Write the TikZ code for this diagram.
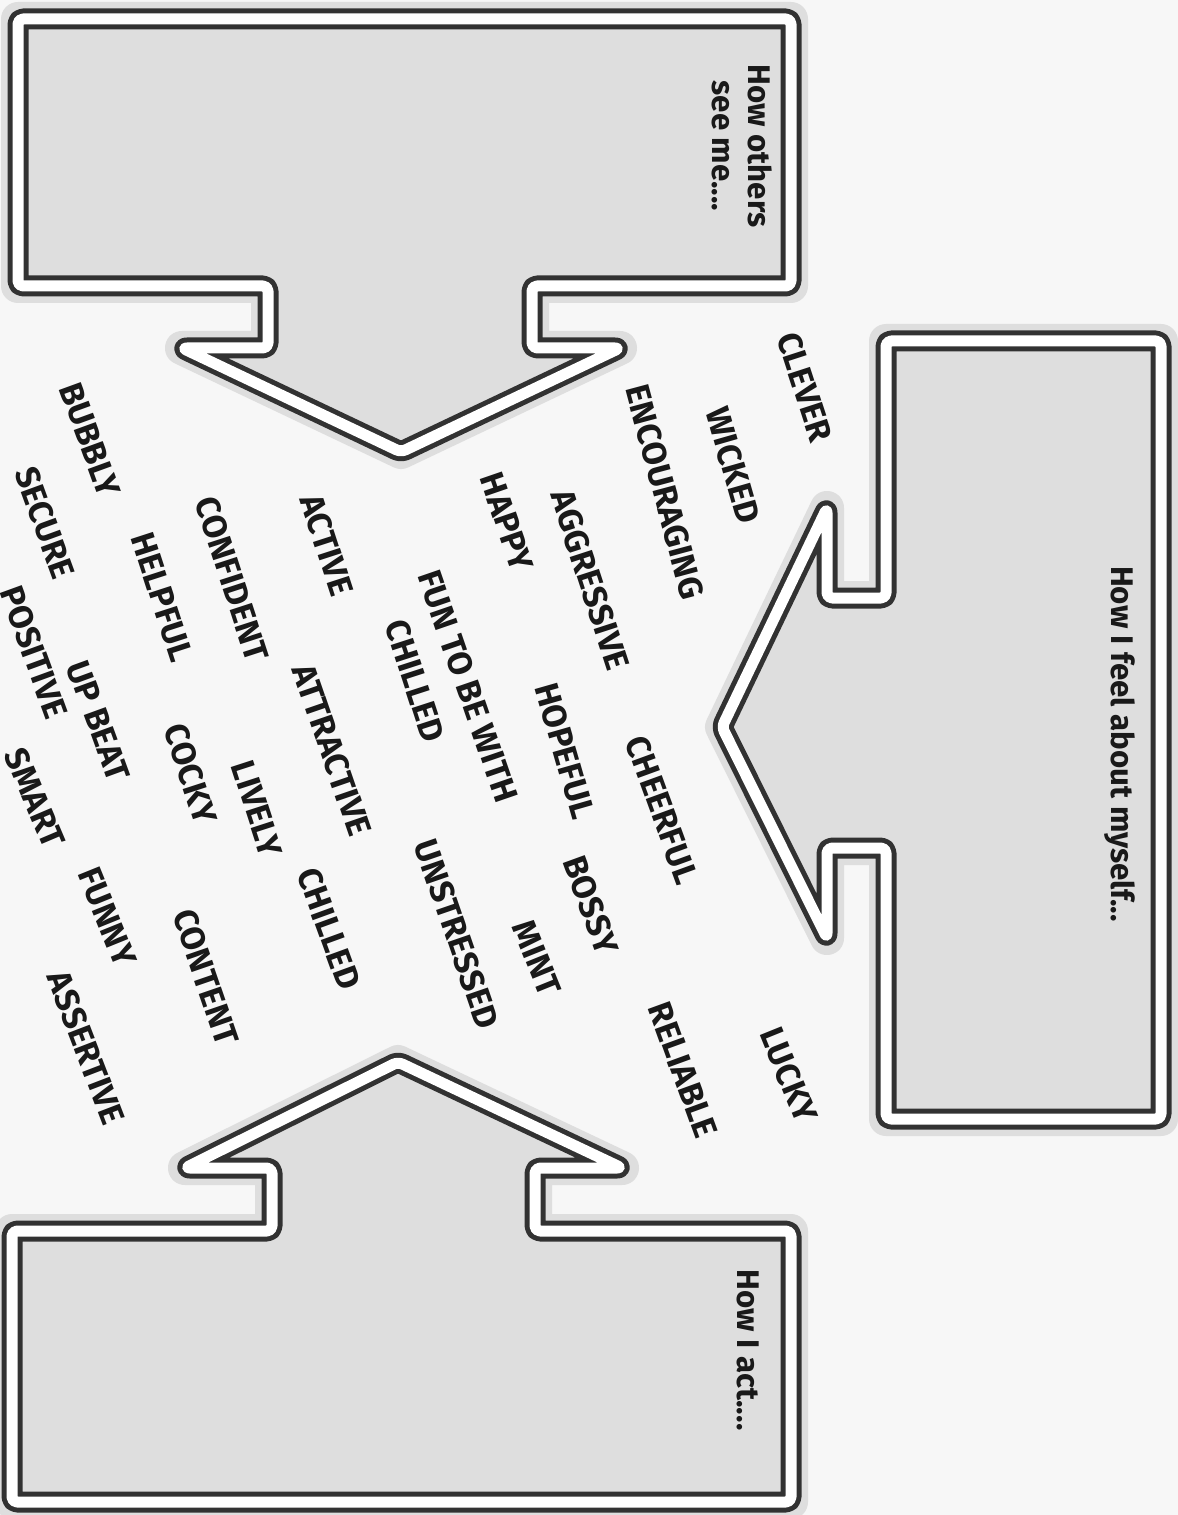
\documentclass[tikz,border=0pt]{standalone}
\usepackage{fontspec}
\setmainfont{Fira Sans}
\definecolor{ShapeLine}{RGB}{50,50,50}
\definecolor{ShapeFill}{RGB}{222,222,222}
\definecolor{PageBack}{RGB}{247,247,247}
\definecolor{WordInk}{RGB}{25,25,25}
\usetikzlibrary{positioning}
\newcommand{\othersPath}{(18,19) -- (791,19) -- (791,286) -- (532,286) -- (532,348) -- (620,348)
  -- (401,452) -- (182,348) -- (268,348) -- (268,286) -- (18,286) -- cycle}
\newcommand{\feelPath}{(886,341) -- (1161,341) -- (1161,1119) -- (886,1119) -- (886,848) -- (827,848)
  -- (827,938) -- (722,727) -- (827,508) -- (827,598) -- (886,598) -- cycle}
\newcommand{\actPath}{(12,1231) -- (272,1231) -- (272,1168) -- (185,1168) -- (398,1062) -- (622,1168)
  -- (535,1168) -- (535,1231) -- (791,1231) -- (791,1502) -- (12,1502) -- cycle}

\begin{document}
\begin{tikzpicture}[x=0.1mm,y=-0.1mm,
    every node/.style={text=WordInk,inner sep=0pt},
    word/.style={font=\fontsize{9.6}{10}\selectfont\bfseries},
    title/.style={font=\fontsize{8.9}{10.2}\selectfont\bfseries,rotate=-90,align=center},
    halo/.style={draw=black!13,line width=3.4mm,line join=round},
    frame/.style={draw=ShapeLine,fill=ShapeFill,line width=0.5mm,double=white,
                  double distance=1.1mm,line join=round,rounded corners=0.5mm}]
  \fill[PageBack] (0,0) rectangle (1178,1515);
  \useasboundingbox (0,0) rectangle (1178,1515);
  % the three arrows
  \draw[halo] \othersPath;
  \draw[halo] \feelPath;
  \draw[halo] \actPath;
  \draw[frame] \othersPath;
  \draw[frame] \feelPath;
  \draw[frame] \actPath;
  % headings
  \node[title] (others) at (742,146) {How others\\see me....};
  \node[title] (feel) at (1120,744) {How I feel about myself...};
  \node[title] (act) at (748,1350) {How I act....};
  % words in the middle
  \foreach \x/\y/\a/\w [count=\i] in {
      805/387/-72/CLEVER, 733/465/-74/WICKED, 665/492/-75/ENCOURAGING,
      507/522/-71/HAPPY, 590/580/-72/AGGRESSIVE, 327/545/-72/ACTIVE,
      232/579/-72/CONFIDENT, 90/440/-70/BUBBLY, 45/523/-70/SECURE,
      162/597/-72/HELPFUL, 468/686/-71/FUN TO BE WITH, 415/681/-72/CHILLED,
      332/750/-71/ATTRACTIVE, 565/751/-74/HOPEFUL, 662/810/-70/CHEERFUL,
      34/652/-70/POSITIVE, 98/721/-70/UP BEAT, 191/774/-72/COCKY,
      257/809/-72/LIVELY, 35/798/-67/SMART, 591/905/-70/BOSSY,
      457/934/-71/UNSTRESSED, 329/929/-70/CHILLED, 537/958/-68/MINT,
      107/917/-68/FUNNY, 206/977/-71/CONTENT, 683/1070/-70/RELIABLE,
      789/1075/-68/LUCKY, 86/1048/-69/ASSERTIVE}
    \node[word,rotate=\a] (word\i) at (\x,\y) {\w};
\end{tikzpicture}
\end{document}
